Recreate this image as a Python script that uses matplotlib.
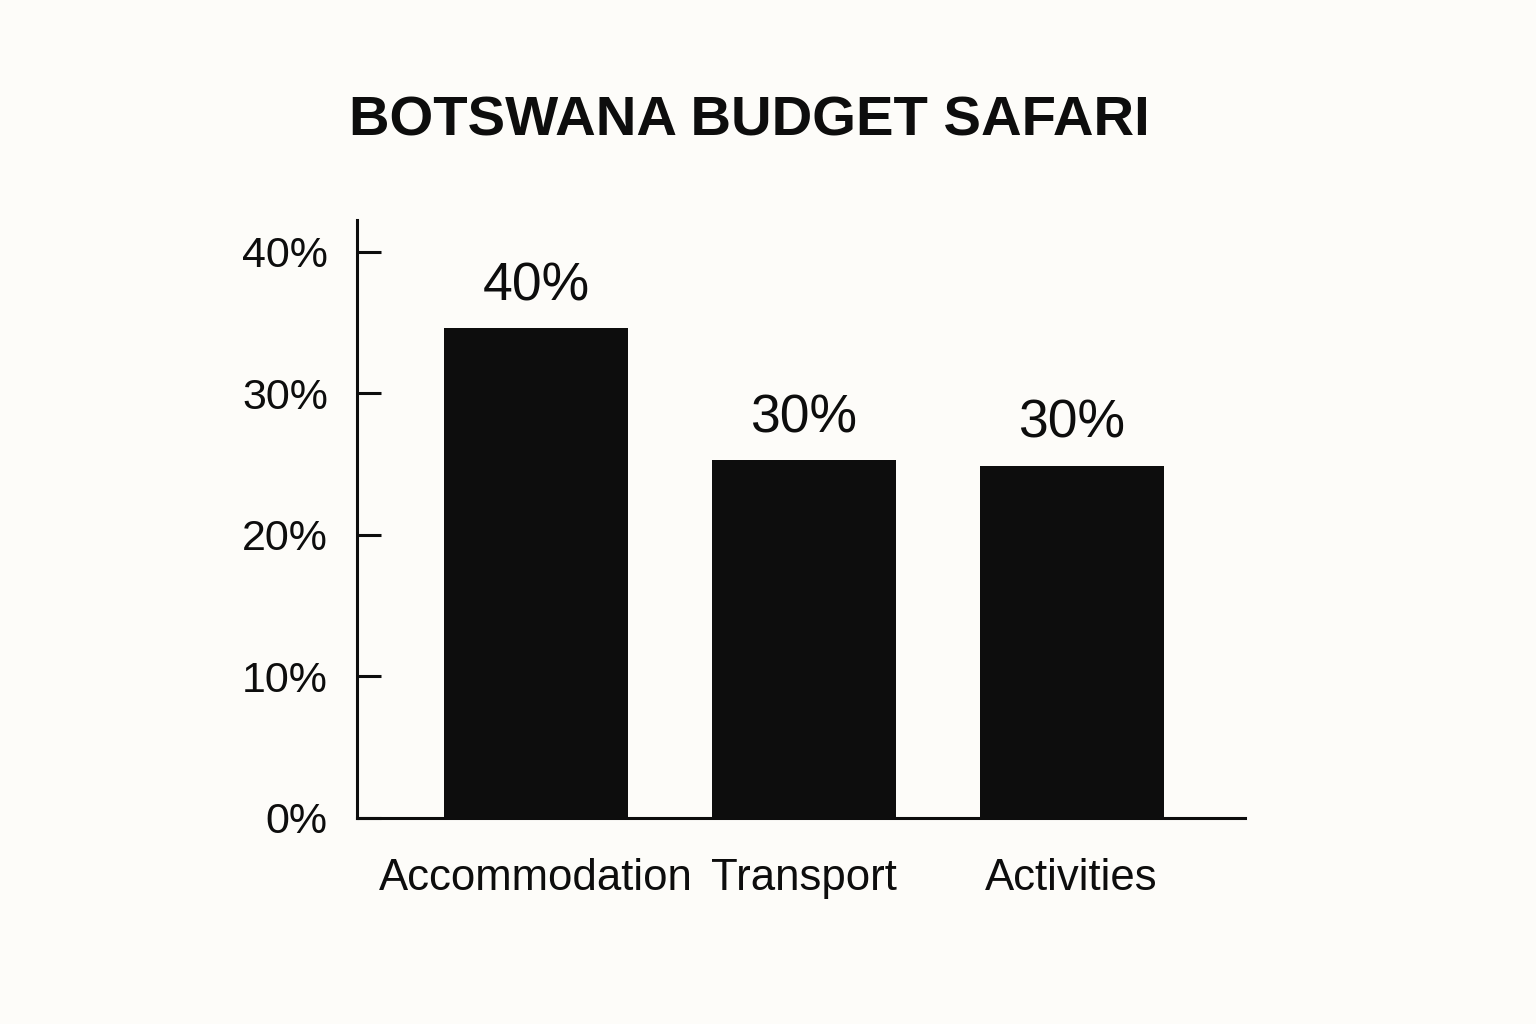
import matplotlib.pyplot as plt

plt.rcParams['font.family'] = ['Liberation Sans', 'DejaVu Sans']

categories = ['Accommodation', 'Transport', 'Activities']
bar_heights = [34.6, 25.3, 24.9]   # drawn heights
bar_labels = ['40%', '30%', '30%']  # printed labels above the bars
y_ticks = [0, 10, 20, 30, 40]
y_tick_labels = ['0%', '10%', '20%', '30%', '40%']

bg = '#fdfcf9'
ink = '#0d0d0d'

fig = plt.figure(figsize=(15.36, 10.24), dpi=100, facecolor=bg)
ax = fig.add_axes([0.2324, 0.2012, 0.578, 0.584], facecolor=bg)

x = list(range(len(categories)))
ax.bar(x, bar_heights, width=0.687, color=ink)

for xi, h, lab in zip(x, bar_heights, bar_labels):
    ax.annotate(lab, (xi, h), xytext=(0, 20), textcoords='offset points',
                ha='center', va='baseline', fontsize=38.5, color=ink)

ax.set_xlim(-0.668, 2.646)
ax.set_ylim(0, 42.26)
ax.set_xticks(x)
ax.set_xticklabels(categories)
ax.set_yticks(y_ticks)
ax.set_yticklabels(y_tick_labels)

for side in ['top', 'right']:
    ax.spines[side].set_visible(False)
for side in ['left', 'bottom']:
    ax.spines[side].set_linewidth(2.2)
    ax.spines[side].set_color(ink)

ax.tick_params(axis='y', direction='in', length=17, width=2.2, pad=21,
               labelsize=31, colors=ink)
ax.tick_params(axis='x', length=0, pad=29, labelsize=31.5, colors=ink)

fig.text(0.488, 1 - 135 / 1024, 'BOTSWANA BUDGET SAFARI', ha='center',
         va='baseline', fontsize=40.5, fontweight='bold', color=ink)

fig.savefig('out.png', dpi=100, facecolor=bg)
